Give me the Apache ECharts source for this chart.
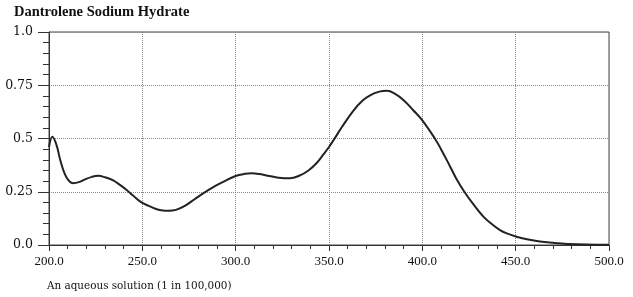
<!DOCTYPE html>
<html>
<head>
<meta charset="utf-8">
<script src="https://cdn.jsdelivr.net/npm/echarts@6/dist/echarts.min.js"></script>
<style>
  html, body { margin: 0; padding: 0; background: #fff; }
  #chart { width: 633px; height: 297px; }
</style>
</head>
<body>
<div id="chart"></div>
<script>
// wavelength (nm) and absorbance
const wavelengths = [200, 201.8, 204, 206, 208.6, 211, 213, 216, 219, 223, 226.4, 230, 234.4, 238, 241.6, 245, 248.7, 253, 257.7, 261, 264, 268, 273, 278, 283, 288, 293, 300, 305, 308.6, 313, 318, 323, 329, 334, 339, 343.4, 347, 350, 353, 357, 363, 368, 372, 377, 381, 385, 390, 395, 400, 406.7, 410, 414.8, 418, 422.5, 427, 432.7, 437, 441.6, 446, 450, 456, 463, 470, 478, 488, 500];
const absorbance = [0.46, 0.508, 0.47, 0.40, 0.33, 0.298, 0.29, 0.295, 0.307, 0.32, 0.325, 0.318, 0.303, 0.282, 0.258, 0.232, 0.205, 0.185, 0.168, 0.162, 0.161, 0.165, 0.185, 0.215, 0.245, 0.272, 0.295, 0.324, 0.334, 0.337, 0.333, 0.324, 0.316, 0.313, 0.325, 0.35, 0.385, 0.425, 0.46, 0.50, 0.555, 0.63, 0.678, 0.703, 0.72, 0.724, 0.712, 0.68, 0.634, 0.585, 0.5, 0.45, 0.37, 0.315, 0.25, 0.195, 0.133, 0.1, 0.07, 0.052, 0.04, 0.027, 0.016, 0.01, 0.005, 0.002, 0.001];
const yTickLabels = { '0': '0.0', '0.25': '0.25', '0.5': '0.5', '0.75': '0.75', '1': '1.0' };

const serif = '"Liberation Serif", "DejaVu Serif", serif';
const wideSerif = '"DejaVu Serif", "Liberation Serif", serif';
const chart = echarts.init(document.getElementById('chart'));

const points = wavelengths.map((w, i) => [w, absorbance[i]]);

const option = {
  backgroundColor: '#fff',
  animation: false,
  title: [{
    text: 'Dantrolene Sodium Hydrate',
    left: 14,
    top: 5,
    padding: 0,
    textStyle: { fontFamily: serif, fontSize: 14.5, fontWeight: 'bold', color: '#111' }
  }, {
    text: 'An aqueous solution (1 in 100,000)',
    left: 47,
    top: 281,
    padding: 0,
    textStyle: { fontFamily: wideSerif, fontSize: 10.4, fontWeight: 'normal', color: '#111' }
  }],
  grid: {
    left: 49, right: 24, top: 32, bottom: 52,
    show: true, borderColor: '#444', borderWidth: 1
  },
  xAxis: [{
    type: 'value',
    min: 200, max: 500, interval: 50,
    position: 'bottom',
    axisLine: { show: true, lineStyle: { color: '#333', width: 1 } },
    axisTick: { show: true, length: 6, lineStyle: { color: '#333' } },
    axisLabel: {
      margin: 10, fontFamily: serif, fontSize: 13, color: '#111',
      formatter: v => v.toFixed(1)
    },
    splitLine: { show: true, lineStyle: { type: 'dotted', color: '#888', width: 1 } }
  }, {
    // minor ticks pointing into the plot
    type: 'value',
    min: 200, max: 500, interval: 50,
    position: 'bottom',
    axisLine: { show: false },
    axisTick: { show: false },
    axisLabel: { show: false },
    splitLine: { show: false },
    minorTick: { show: true, splitNumber: 5, length: 4, lineStyle: { color: '#333' } },
    axisPointer: { show: false }
  }],
  yAxis: {
    type: 'value',
    min: 0, max: 1, interval: 0.25,
    axisLine: { show: true, lineStyle: { color: '#333', width: 1 } },
    axisTick: { show: true, length: 11, lineStyle: { color: '#333' } },
    minorTick: { show: true, splitNumber: 5, length: 6, lineStyle: { color: '#333' } },
    axisLabel: {
      margin: 16, fontFamily: wideSerif, fontSize: 12.5, color: '#111',
      formatter: v => yTickLabels[String(v)] || ''
    },
    splitLine: { show: true, lineStyle: { type: 'dotted', color: '#888', width: 1 } }
  },
  series: [{
    type: 'line',
    xAxisIndex: 0,
    data: points,
    smooth: 0.4,
    showSymbol: false,
    lineStyle: { color: '#222', width: 2 }
  }]
};
chart.setOption(option);
</script>
</body>
</html>
